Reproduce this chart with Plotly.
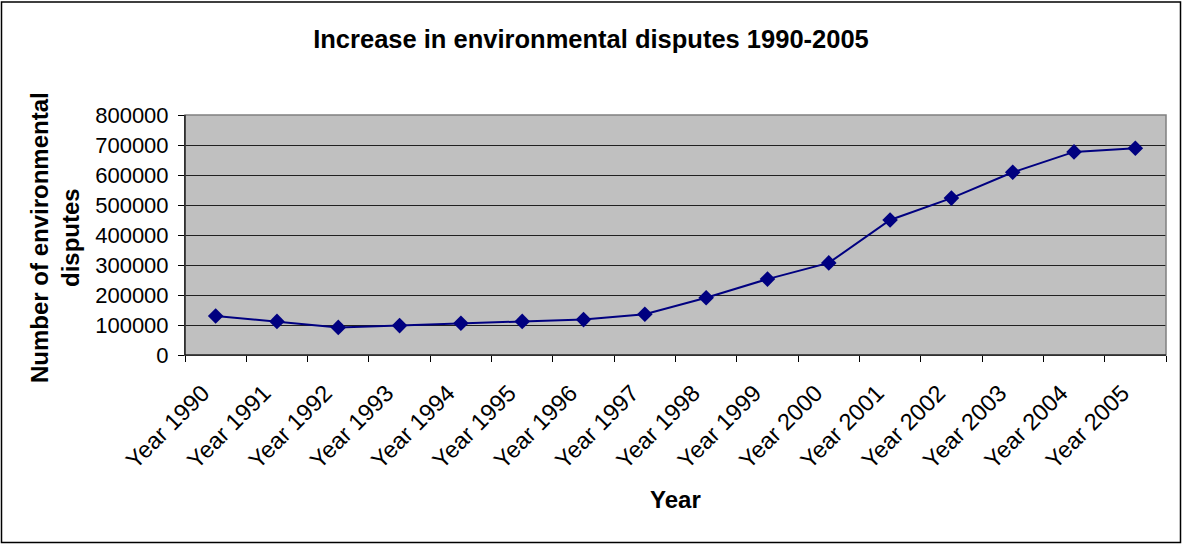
import plotly.graph_objects as go

years = ["Year 1990", "Year 1991", "Year 1992", "Year 1993", "Year 1994", "Year 1995",
         "Year 1996", "Year 1997", "Year 1998", "Year 1999", "Year 2000", "Year 2001",
         "Year 2002", "Year 2003", "Year 2004", "Year 2005"]
disputes = [130000, 112000, 92000, 98000, 106000, 112000, 118000, 136000,
            191000, 253000, 307000, 450000, 523000, 609000, 677000, 689000]
y_ticks = [0, 100000, 200000, 300000, 400000, 500000, 600000, 700000, 800000]

W, H = 1182, 544
ML, MR, MT, MB = 185, 16, 115, 189
pw, ph = W - ML - MR, H - MT - MB

fig = go.Figure()
fig.add_trace(go.Scatter(
    x=years, y=disputes, mode="lines+markers",
    line=dict(color="#000080", width=2),
    marker=dict(symbol="diamond", size=12, color="#000080"),
    showlegend=False,
))

font = "Liberation Sans, Arial, sans-serif"

fig.update_layout(
    width=W, height=H,
    margin=dict(l=ML, r=MR, t=MT, b=MB),
    paper_bgcolor="white",
    plot_bgcolor="#C0C0C0",
    font=dict(family=font, color="black", size=22),
    title=dict(text="<b>Increase in environmental disputes 1990-2005</b>",
               x=0.5, xref="container", xanchor="center",
               y=1 - 39 / H, yref="container", yanchor="middle",
               font=dict(size=25.5, family=font)),
    xaxis=dict(
        type="category", tickson="boundaries",
        ticks="outside", ticklen=6, tickcolor="black",
        showline=True, linecolor="black", linewidth=1,
        showgrid=False, tickangle=-45,
        tickfont=dict(size=23.5),
        ticklabelstandoff=14, ticklabelshift=-13,
        range=[-0.5, len(years) - 0.5],
    ),
    yaxis=dict(
        range=[0, 800000], tickvals=y_ticks, ticktext=[str(v) for v in y_ticks],
        ticks="outside", ticklen=6, tickcolor="black",
        showline=True, linecolor="black", linewidth=1,
        showgrid=True, gridcolor="#202020", gridwidth=1,
        zeroline=False, tickfont=dict(size=22),
        ticklabelstandoff=5,
    ),
)

# axis titles
fig.add_annotation(text="<b>Year</b>", xref="paper", yref="paper",
                   x=0.5, y=-(500 - (MT + ph)) / ph, xanchor="center", yanchor="middle",
                   showarrow=False, font=dict(size=24))
fig.add_annotation(text="<b>Number of environmental<br>disputes</b>", xref="paper", yref="paper",
                   x=-(ML - 55) / pw, y=1 - (238 - MT) / ph, xanchor="center", yanchor="middle",
                   textangle=-90, showarrow=False, font=dict(size=24))

# grey frame on top/right of plot area
fig.add_shape(type="rect", xref="paper", yref="paper", x0=0, x1=1, y0=0, y1=1,
              line=dict(color="#808080", width=1.5), layer="above")
# black axis lines over the frame
fig.add_shape(type="line", xref="paper", yref="paper", x0=0, x1=0, y0=0, y1=1,
              line=dict(color="black", width=1), layer="above")
fig.add_shape(type="line", xref="paper", yref="paper", x0=0, x1=1, y0=0, y1=0,
              line=dict(color="black", width=1), layer="above")

# outer chart border
fig.add_shape(type="rect", xref="paper", yref="paper",
              x0=(-ML + 1.5) / pw, x1=1 + (MR - 1.5) / pw,
              y0=(-MB + 1.5) / ph, y1=1 + (MT - 2) / ph,
              line=dict(color="black", width=1.5))

fig.write_html("out.html")
